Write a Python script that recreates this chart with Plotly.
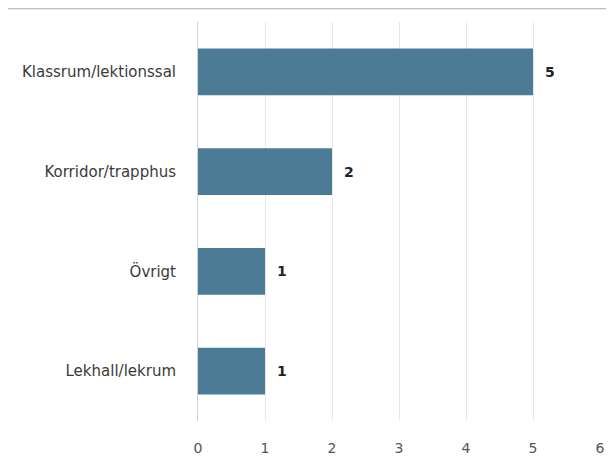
import plotly.graph_objects as go

categories = ['Klassrum/lektionssal', 'Korridor/trapphus', 'Övrigt', 'Lekhall/lekrum']
values = [5, 2, 1, 1]
x_ticks = [0, 1, 2, 3, 4, 5, 6]

FONT = 'DejaVu Sans, Verdana, sans-serif'

fig = go.Figure()

fig.add_trace(go.Bar(
    x=values,
    y=categories,
    orientation='h',
    marker=dict(color='#4b7b95', line=dict(width=0)),
    width=0.47,
    hoverinfo='x+y',
))

# value labels just right of each bar end
for cat, v in zip(categories, values):
    fig.add_annotation(
        x=v, y=cat, text=f'<b>{v}</b>',
        xanchor='left', xshift=10, showarrow=False,
        font=dict(family=FONT, size=14, color='#222222'),
    )

# thin rule across the top of the page
fig.add_shape(type='line', xref='paper', yref='paper',
              x0=-0.5, x1=1.1, y0=1.034, y1=1.034,
              line=dict(color='#bdbdbd', width=1.5))

fig.update_layout(
    width=606,
    height=463,
    margin=dict(l=190, r=9, t=14, b=50),
    paper_bgcolor='white',
    plot_bgcolor='white',
    showlegend=False,
    bargap=0.53,
    font=dict(family=FONT, size=12, color='#444444'),
    xaxis=dict(
        range=[0, 6],
        tickvals=x_ticks,
        showgrid=True,
        gridcolor='#e8e8e8',
        gridwidth=1,
        zeroline=False,
        showline=False,
        ticks='',
        ticklabelstandoff=17,
        tickfont=dict(family=FONT, size=14, color='#555555'),
        fixedrange=True,
    ),
    yaxis=dict(
        categoryorder='array',
        categoryarray=categories[::-1],
        showgrid=False,
        zeroline=False,
        showline=True,
        linecolor='#d0d0d0',
        linewidth=1,
        ticks='',
        ticklabelstandoff=18,
        tickfont=dict(family=FONT, size=15, color='#3a3a3a'),
        fixedrange=True,
    ),
)

fig.write_html('out.html')
